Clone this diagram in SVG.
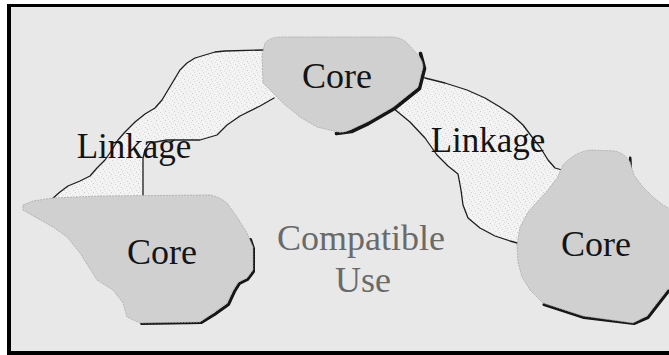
<svg xmlns="http://www.w3.org/2000/svg" width="669" height="355" viewBox="0 0 669 355">
  <style>
    .core { fill: #d0d0d0; stroke: #a8a8a8; stroke-width: 0.8; stroke-dasharray: 2 1; }
    .shadow { fill: none; stroke: #151515; stroke-width: 3; stroke-linecap: round; stroke-linejoin: round; filter: url(#soft); }
    .link-fill { fill: url(#stipple); stroke: none; }
    .link-edge { fill: none; stroke: #1e1e1e; stroke-width: 1.3; stroke-linejoin: round; stroke-linecap: round; }
    .lbl { font-family: "Liberation Serif", "Times New Roman", serif; font-size: 36px; fill: #141414; text-anchor: middle; }
    .lbl-link { font-size: 35px; }
    .lbl-use { fill: #6a6a6a; }
  </style>
  <defs>
    <filter id="soft" x="-10%" y="-10%" width="120%" height="120%">
      <feGaussianBlur stdDeviation="0.6"/>
    </filter>
    <!-- speckled fill for the linkage corridors -->
    <pattern id="stipple" width="9" height="9" patternUnits="userSpaceOnUse">
      <rect width="9" height="9" fill="#f3f3f3"/>
      <rect x="1" y="1" width="1" height="1" fill="#d0d0d0"/>
      <rect x="5" y="0" width="1" height="1" fill="#dcdcdc"/>
      <rect x="3" y="3" width="1" height="1" fill="#cbcbcb"/>
      <rect x="7" y="4" width="1" height="1" fill="#d6d6d6"/>
      <rect x="0" y="6" width="1" height="1" fill="#dadada"/>
      <rect x="4" y="7" width="1" height="1" fill="#cecece"/>
      <rect x="8" y="8" width="1" height="1" fill="#e0e0e0"/>
      <rect x="6" y="2" width="1" height="1" fill="#e2e2e2"/>
      <rect x="2" y="5" width="1" height="1" fill="#e0e0e0"/>
    </pattern>
  </defs>

  <!-- page and frame -->
  <g id="frame">
    <rect x="0" y="0" width="669" height="355" fill="#ffffff"/>
    <rect x="7" y="4" width="662" height="351" fill="#000000"/>
    <rect x="11" y="7" width="658" height="344" fill="#e8e8e8"/>
  </g>

  <!-- linkage corridors between the cores -->
  <g id="connectors">
    <g id="linkage-left">
      <path class="link-fill" d="M52,199 L60,192 L68,186 L80,181 L90,176 L97,168 L105,160 L112,150 L118,140 L125,132 L135,122 L145,114 L155,108 L162,100 L168,90 L174,80 L180,70 L187,63 L195,58 L205,55 L215,52 L225,51 L262,50 L275,50 L275,98 L260,106 L240,116 L227,125 L217,135 L200,140 L167,140 L150,143 L145,150 L143,158 L143,198 Z"/>
      <path class="link-edge" d="M52,199 L60,192 L68,186 L80,181 L90,176 L97,168 L105,160 L112,150 L118,140 L125,132 L135,122 L145,114 L155,108 L162,100 L168,90 L174,80 L180,70 L187,63 L195,58 L205,55 L215,52 L225,51 L264,50"/>
      <path class="link-edge" d="M274,98 L260,106 L240,116 L227,125 L217,135 L200,140 L167,140 L150,143 L145,150 L143,158 L143,196"/>
      <text class="lbl lbl-link" x="134" y="158">Linkage</text>
    </g>
    <g id="linkage-right">
      <path class="link-fill" d="M415,74 L425,78 L445,83 L467,90 L485,98 L500,107 L512,115 L523,125 L532,137 L540,147 L548,160 L555,168 L565,172 L545,210 L522,244 L510,241 L495,236 L480,228 L468,218 L463,205 L461,190 L458,174 L448,166 L437,155 L425,138 L410,122 L393,108 Z"/>
      <path class="link-edge" d="M420,76 L425,78 L445,83 L467,90 L485,98 L500,107 L512,115 L523,125 L532,137 L540,147 L548,160 L555,168 L562,170"/>
      <path class="link-edge" d="M393,108 L410,122 L425,138 L437,155 L448,166 L458,174 L461,190 L463,205 L468,218 L480,228 L495,236 L510,241 L521,244"/>
      <text class="lbl lbl-link" x="488" y="152">Linkage</text>
    </g>
  </g>

  <!-- core habitat areas -->
  <g id="core-top">
    <path class="shadow" style="stroke-width:3.6" transform="translate(1.5,1.5)" d="M419,52 L423,67 L418,87 L393,107 L367,122 L350,130 L335,132"/>
    <path class="core" d="M265,43 Q270,37 282,37 L393,37 Q402,38 407,43 L418,55 Q423,61 423,67 L418,87 L393,107 L367,122 L350,130 Q344,133 338,132 L317,127 L300,117 L283,103 L273,93 L263,83 L262,55 Z"/>
    <text class="lbl" x="337" y="88">Core</text>
  </g>

  <g id="core-left">
    <path class="shadow" transform="translate(1.5,1.5)" d="M249,238 L252,247 L252,270 L246,278 L238,282 L233,290 L227,303 L213,313 L200,321 L140,322"/>
    <path class="shadow" style="stroke-width:1.5" d="M25,209 L37,217 L45,220"/>
    <path class="core" d="M23,205 L33,201 L53,198 L100,196 L210,195 Q220,197 227,203 L237,217 L247,233 L250,240 L253,247 L253,270 L247,278 L238,282 L233,290 L227,303 L213,313 L200,322 L140,323 L127,317 L123,303 L113,290 L97,280 L80,253 L67,237 L53,227 L37,218 L23,210 Z"/>
    <text class="lbl" x="162" y="264">Core</text>
  </g>

  <g id="core-right">
    <path class="shadow" transform="translate(1,1.5)" d="M543,303 L583,316 L633,322 L647,316 L668,289"/>
    <path class="shadow" d="M630,158 L631,177"/>
    <path class="shadow" d="M668,208 L668,227"/>
    <path class="core" d="M563,165 Q575,152 590,150 L615,151 Q626,154 630,162 L634,175 L642,186 L653,197 L663,205 L675,212 L675,290 L667,289 L647,316 L633,323 L583,316 L543,303 L530,290 L522,277 L518,262 L517,245 L520,227 L528,212 L537,202 L548,190 L557,178 Z"/>
    <text class="lbl" x="596" y="256">Core</text>
  </g>

  <g id="compatible-use">
    <text class="lbl lbl-use" x="361" y="250">Compatible</text>
    <text class="lbl lbl-use" x="363" y="292">Use</text>
  </g>
</svg>
